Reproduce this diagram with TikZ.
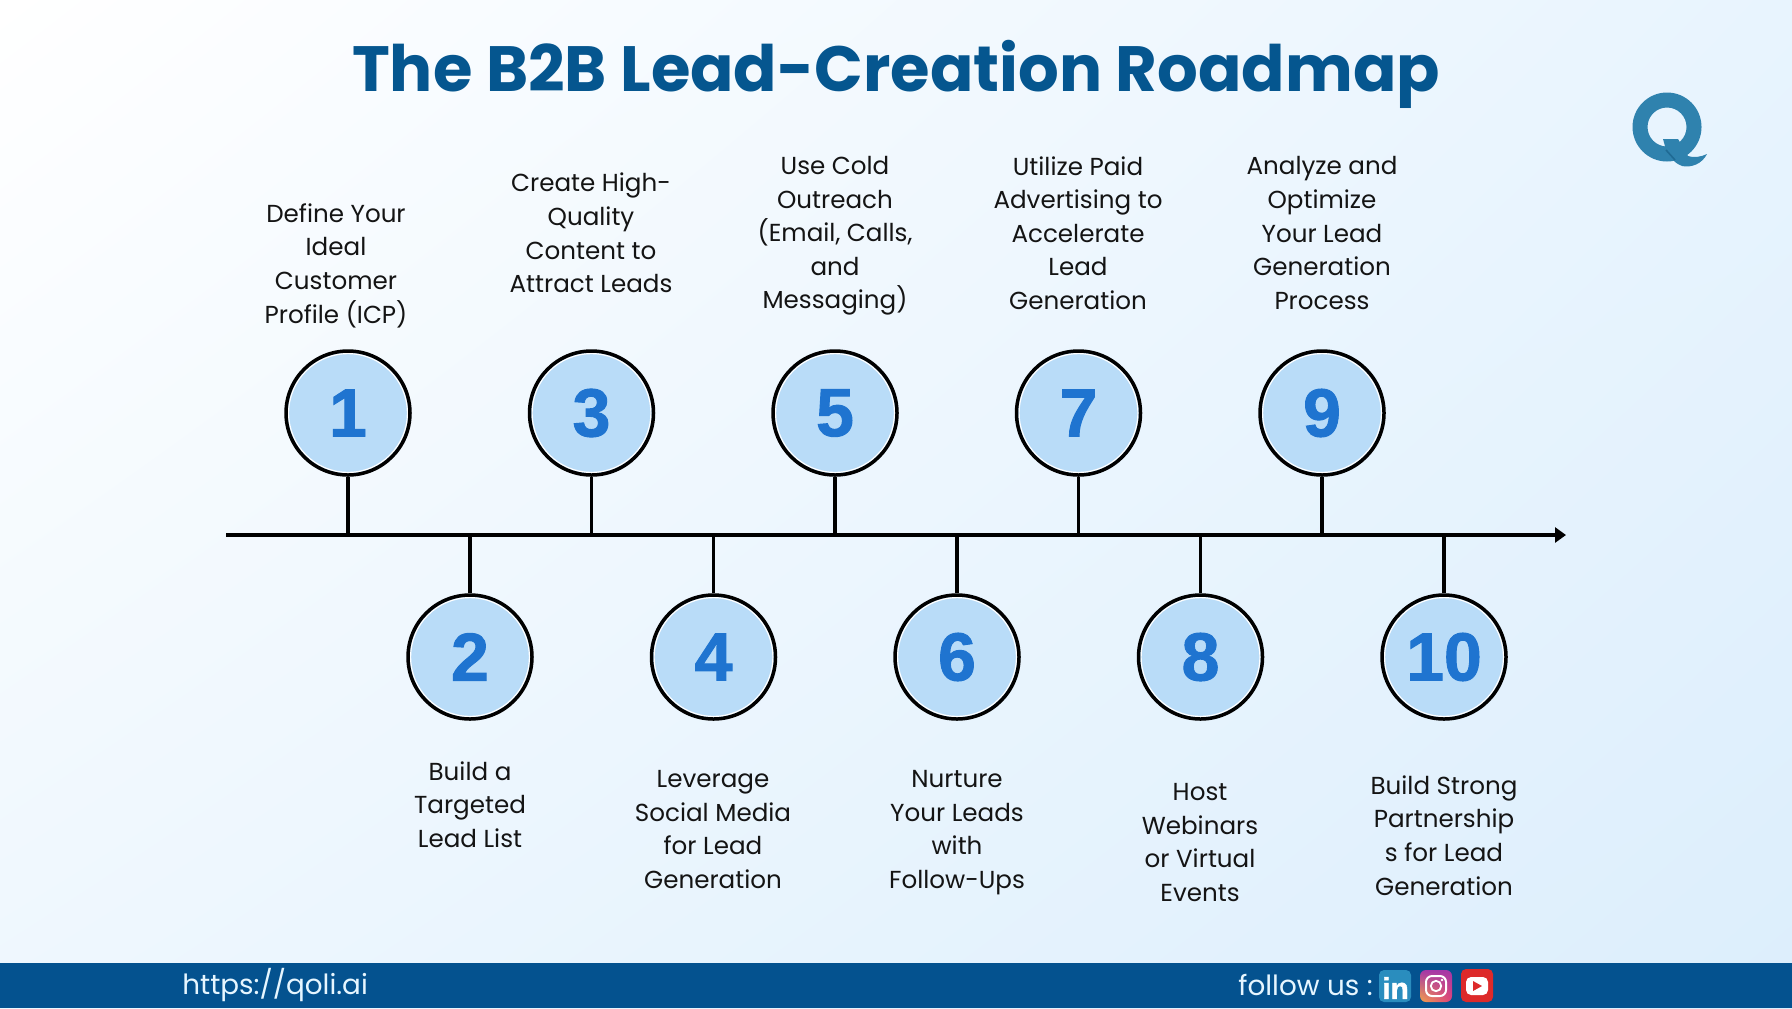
\documentclass[tikz,border=0pt]{standalone}
\usepackage{fontspec}
\usetikzlibrary{shadings,arrows.meta}
\setmainfont{Poppins}
\newfontfamily\digitfont{Liberation Sans}[BoldFeatures={FakeBold=1.4}]
\definecolor{titleblue}{HTML}{05568F}
\definecolor{barblue}{HTML}{04528F}
\definecolor{bubble}{HTML}{B9DCF8}
\definecolor{digit}{HTML}{1F74D0}
\definecolor{logoblue}{HTML}{2F82AE}
\definecolor{logodark}{HTML}{1F6A94}
\definecolor{barink}{HTML}{E6F6FF}
\definecolor{lkblue}{HTML}{2A8DBE}
\definecolor{ytred}{HTML}{DD2A2A}
\definecolor{igpurple}{HTML}{A436A8}
\definecolor{igorange}{HTML}{F2A14A}
\definecolor{igred}{HTML}{E0407A}
\definecolor{bgtr}{HTML}{E8F4FE}
\definecolor{bgbl}{HTML}{EEF7FE}
\definecolor{bgbr}{HTML}{DCEEFC}
\tikzset{
  stepcircle/.style={circle,draw=black,line width=1.75pt,fill=bubble,minimum size=62pt,inner sep=0pt,
    font=\digitfont\bfseries\fontsize{34}{34}\selectfont,text=digit,
    path picture={\draw[white,line width=0.6pt] (path picture bounding box.center) circle (29.7pt);}},
  steplabel/.style={align=center,inner sep=0pt,text=black!92,font=\fontsize{12.3}{16.8}\selectfont},
  stem/.style={line width=1.75pt,draw=black},
  axisline/.style={line width=1.75pt,draw=black},
  bartext/.style={text=barink,inner sep=0pt,font=\fontsize{13.9}{17}\selectfont,anchor=west},
}
\begin{document}
\begin{tikzpicture}[x=0.5pt,y=-0.5pt]
\useasboundingbox (0,0) rectangle (1792,1008);
\shade[upper left=white,upper right=bgtr,lower left=bgbl,lower right=bgbr] (0,0) rectangle (1792,1008);
\fill[barblue] (0,963) rectangle (1792,1008);
\node[inner sep=0pt,text=titleblue,font=\fontsize{32}{36}\selectfont\bfseries] (title) at (896,74) {The B2B Lead-Creation Roadmap};

% axis
\coordinate (axisstart) at (226,535);
\coordinate (axisend) at (1566,535);
\draw[axisline,-{Triangle[length=5.5pt,width=7.5pt]}] (axisstart) -- (axisend);

% steps
\node[stepcircle] (n1) at (348,413) {1};
\node[stepcircle] (n2) at (470,657) {2};
\node[stepcircle] (n3) at (591.5,413) {3};
\node[stepcircle] (n4) at (713.5,657) {4};
\node[stepcircle] (n5) at (835,413) {5};
\node[stepcircle] (n6) at (957,657) {6};
\node[stepcircle] (n7) at (1078.5,413) {7};
\node[stepcircle] (n8) at (1200.5,657) {8};
\node[stepcircle] (n9) at (1322,413) {9};
\node[stepcircle] (n10) at (1444,657) {10};
\foreach \k in {1,2,...,10} \draw[stem] (n\k) -- (n\k |- axisstart);

\node[steplabel] (t1) at (336,265.5) {Define Your\\Ideal\\Customer\\Profile (ICP)};
\node[steplabel] (t2) at (470,804.5) {Build a\\Targeted\\Lead List};
\node[steplabel] (t3) at (591,233) {Create High-\\Quality\\Content to\\Attract Leads};
\node[steplabel] (t4) at (713,829.5) {Leverage\\Social Media\\for Lead\\Generation};
\node[steplabel] (t5) at (835,236) {Use Cold\\Outreach\\(Email, Calls,\\and\\Messaging)};
\node[steplabel] (t6) at (957,832.5) {Nurture\\Your Leads\\with\\Follow-Ups};
\node[steplabel] (t7) at (1078,233) {Utilize Paid\\Advertising to\\Accelerate\\Lead\\Generation};
\node[steplabel] (t8) at (1200,842.5) {Host\\Webinars\\or Virtual\\Events};
\node[steplabel] (t9) at (1322,233) {Analyze and\\Optimize\\Your Lead\\Generation\\Process};
\node[steplabel] (t10) at (1444,835.5) {Build Strong\\Partnership\\s for Lead\\Generation};

% bar text
\node[bartext] (url) at (182,985) {https://qoli.ai};
\node[bartext] (follow) at (1238,985) {follow us :};

% linkedin
\fill[lkblue,rounded corners=2.5pt] (1379,970) rectangle (1411,1002);
\node[inner sep=0pt,text=white,font=\digitfont\bfseries\fontsize{15}{15}\selectfont] (lk) at (1395.5,988) {in};
% instagram
\shade[rounded corners=3pt,upper left=igpurple,upper right=igpurple,lower left=igorange,lower right=igred] (1420,970) rectangle (1452,1002);
\draw[white,line width=1pt,rounded corners=3pt] (1426,976) rectangle (1446,996);
\draw[white,line width=0.9pt] (1436,986) circle (2.6pt);
\fill[white] (1442,980) circle (0.7pt);
% youtube
\fill[ytred,rounded corners=2.5pt] (1461,969) rectangle (1493,1002);
\fill[white,rounded corners=2.5pt] (1466,977) rectangle (1488,995);
\fill[ytred] (1473,981) -- (1482,986) -- (1473,991) -- cycle;

% logo
\fill[logoblue,even odd rule] (1667,127) circle (17.25pt) (1667,127) circle (9.75pt);
\fill[logoblue] (1663,139) -- (1678,139) -- (1688,156) .. controls (1693,158) and (1701,157) .. (1707,154)
  .. controls (1702,164) and (1691,168) .. (1682,166) .. controls (1676,164) and (1670,158) .. (1666,150) -- cycle;
\draw[logodark,line width=0.8pt] (1666,150) -- (1675,160);
\end{tikzpicture}
\end{document}
